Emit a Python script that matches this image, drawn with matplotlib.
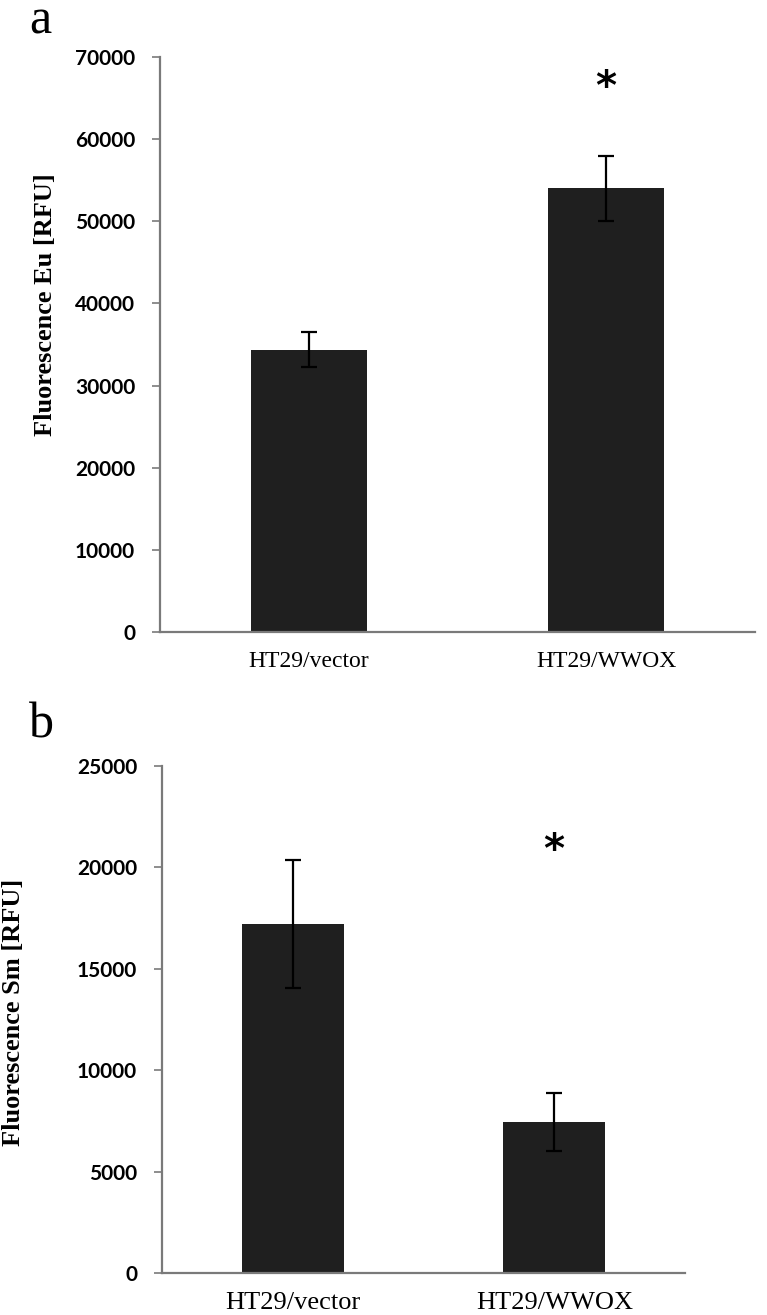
import matplotlib.pyplot as plt

CATEGORIES = ["HT29/vector", "HT29/WWOX"]

# panel a: Eu fluorescence
EU_MEAN = [34350, 54000]
EU_ERR = [2150, 3950]
EU_TICKS = [0, 10000, 20000, 30000, 40000, 50000, 60000, 70000]
EU_STAR = 66200

# panel b: Sm fluorescence
SM_MEAN = [17200, 7450]
SM_ERR = [3170, 1450]
SM_TICKS = [0, 5000, 10000, 15000, 20000, 25000]
SM_STAR = 20800

BAR_COLOR = "#1f1f1f"
AXIS_COLOR = "#7a7a7a"
SERIF = "Liberation Serif"
TICK_FONT = "Lato"


def draw_panel(fig, rect, means, errs, ticks, star_y, ylabel, ylabel_xy,
               letter, letter_xy, cat_size):
    ax = fig.add_axes(rect)
    x = range(len(CATEGORIES))
    ax.bar(x, means, width=0.39, color=BAR_COLOR, zorder=2)
    ax.errorbar(x, means, yerr=errs, fmt="none", ecolor="black",
                elinewidth=1.6, capsize=5.5, capthick=1.6, zorder=3)
    ax.text(1, star_y, "*", ha="center", va="center", fontsize=29,
            fontweight="bold", family="DejaVu Sans")

    ax.set_xlim(-0.5, 1.5)
    ax.set_ylim(ticks[0], ticks[-1])
    ax.set_yticks(ticks)
    ax.set_yticklabels([str(t) for t in ticks], family=TICK_FONT,
                       fontsize=15, fontweight="bold")
    ax.set_xticks(list(x))
    ax.set_xticklabels(CATEGORIES, family=SERIF, fontsize=cat_size)
    ax.tick_params(axis="x", length=0, pad=14)
    ax.tick_params(axis="y", length=6, width=1.2, color=AXIS_COLOR, pad=12)

    for side in ["top", "right"]:
        ax.spines[side].set_visible(False)
    for side in ["left", "bottom"]:
        ax.spines[side].set_color(AXIS_COLOR)
        ax.spines[side].set_linewidth(1.6)

    fig.text(ylabel_xy[0], ylabel_xy[1], ylabel, rotation=90,
             ha="center", va="center", family=SERIF, fontweight="bold",
             fontsize=19)
    fig.text(letter_xy[0], letter_xy[1], letter, family=SERIF, fontsize=36,
             ha="left", va="baseline")
    return ax


def main():
    fig = plt.figure(figsize=(7.67, 13.15), dpi=100)
    W, H = 767, 1315

    draw_panel(fig, [160 / W, 1 - 632 / H, 595 / W, 575 / H],
               EU_MEAN, EU_ERR, EU_TICKS, EU_STAR,
               "Fluorescence Eu [RFU]", (46 / W, 1 - 305 / H),
               "a", (29 / W, 1 - 33 / H), 17)
    draw_panel(fig, [162 / W, 1 - 1273 / H, 523 / W, 507 / H],
               SM_MEAN, SM_ERR, SM_TICKS, SM_STAR,
               "Fluorescence Sm [RFU]", (14 / W, 1 - 1012 / H),
               "b", (29 / W, 1 - 737 / H), 19)

    fig.savefig("out.png", dpi=100)
    plt.close(fig)


if __name__ == "__main__":
    main()
